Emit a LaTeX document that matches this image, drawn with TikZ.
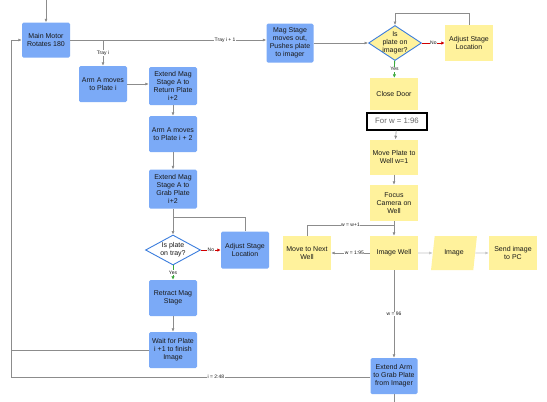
\documentclass[tikz,border=0pt]{standalone}
\usepackage{fontspec}
\setmainfont{Liberation Sans}
\usepackage{xcolor}
\usetikzlibrary{shapes.geometric,arrows.meta}
\definecolor{boxblue}{HTML}{7BAAF7}
\definecolor{boxyellow}{HTML}{FFF29C}
\definecolor{linegray}{HTML}{8C8C8C}
\definecolor{diamblue}{HTML}{3B7DDD}
\definecolor{nored}{HTML}{D00000}
\definecolor{yesgreen}{HTML}{3BA83B}
\begin{document}
\begin{tikzpicture}[x=1pt,y=1pt]
		\tikzstyle{every node}+=[inner sep=0.5pt,align=center,text=black!90,font=\fontsize{7}{8}\selectfont]
		\tikzstyle{bluebox}=[fill=boxblue,rounded corners=1.5pt,minimum width=48pt,minimum height=36pt]
		\tikzstyle{yellowbox}=[fill=boxyellow,minimum width=48pt,minimum height=35pt]
		\tikzstyle{decision}=[diamond,draw=diamblue,line width=0.9pt,inner sep=-5pt]
		\tikzstyle{flow}=[draw=linegray,line width=0.6pt,-{Latex[length=3.5pt,width=3pt]}]
		\tikzstyle{plainflow}=[draw=linegray,line width=0.6pt]
		\tikzstyle{noflow}=[draw=nored,line width=0.8pt,-{Latex[length=3.5pt,width=3.5pt]}]
		\tikzstyle{yesflow}=[draw=yesgreen,line width=0.8pt,-{Latex[length=3.5pt,width=3.5pt]}]
		\tikzstyle{lbl}=[fill=white,inner sep=0.6pt,font=\fontsize{5}{5.5}\selectfont]
		\fill [white] (0,0) rectangle (547,-402);
		\useasboundingbox (0,0) rectangle (547,-402);
		\node [bluebox,minimum height=35pt] (main) at (46,-40) {Main Motor\\Rotates 180};
		\node [bluebox] (armA) at (103,-84) {Arm A moves\\to Plate i};
		\node [bluebox,minimum height=38pt] (extReturn) at (173,-86) {Extend Mag\\Stage A to\\Return Plate\\i+2};
		\node [bluebox] (armAtwo) at (173,-134) {Arm A moves\\to Plate i + 2};
		\node [bluebox,minimum height=39pt] (extGrab) at (173,-189) {Extend Mag\\Stage A to\\Grab Plate\\i+2};
		\node [decision,fill=white,minimum width=55pt,minimum height=30pt] (trayq) at (173,-250) {Is plate\\on tray?};
		\node [bluebox,minimum height=37pt] (adjB) at (245,-250) {Adjust Stage\\Location};
		\node [bluebox] (retract) at (173,-298) {Retract Mag\\Stage};
		\node [bluebox] (wait) at (173,-350) {Wait for Plate\\i +1 to finish\\Image};
		\node [bluebox,minimum width=47pt,minimum height=39pt] (mag) at (290,-43) {Mag Stage\\moves out,\\Pushes plate\\to imager};
		\node [decision,fill=boxyellow,minimum width=53pt,minimum height=35pt] (imgq) at (395,-43) {Is\\plate on\\imager?};
		\node [yellowbox,minimum height=36pt] (adjY) at (469,-43) {Adjust Stage\\Location};
		\node [yellowbox,minimum height=32pt] (close) at (394,-94) {Close Door};
		\node [draw=black,line width=2pt,fill=white,minimum width=60pt,minimum height=17pt,text=black!60,font=\fontsize{7.8}{9}\selectfont] (forw) at (397,-121) {For w = 1:96};
		\node [yellowbox] (move) at (394,-157) {Move Plate to\\Well w=1};
		\node [yellowbox,minimum height=36pt] (focus) at (394,-203) {Focus\\Camera on\\Well};
		\node [yellowbox,minimum height=34pt] (imgwell) at (394,-253) {Image Well};
		\node [yellowbox,minimum height=34pt] (next) at (307,-253) {Move to Next\\Well};
		\node [trapezium,trapezium stretches=true,trapezium left angle=75,trapezium right angle=105,fill=boxyellow,minimum width=46pt,minimum height=34pt] (image) at (454,-253) {Image};
		\node [yellowbox,minimum height=34pt] (send) at (513,-253) {Send image\\to PC};
		\node [bluebox,minimum width=47pt] (extArm) at (394,-376) {Extend Arm\\to Grab Plate\\from Imager};
		\coordinate (topin) at (46,0);
		\coordinate (leftT) at (11,-40);
		\coordinate (leftW) at (11,-350);
		\coordinate (leftB) at (11,-377);
		\coordinate (joinB) at (173,-217);
		\coordinate (joinY) at (395,-13);
		\coordinate (joinW) at (394,-225);
		\coordinate (botout) at (394,-402);
		\draw [flow] (topin) -- (main);
		\draw [flow] (main.east) -- node [lbl,pos=0.79] {Tray i + 1} (main.east -| mag.west);
		\draw [flow] (armA |- main.east) -- node [lbl] {Tray i} (armA);
		\draw [flow] (armA.east) -- (armA.east -| extReturn.west);
		\draw [flow] (extReturn) -- (armAtwo);
		\draw [flow] (armAtwo) -- (extGrab);
		\draw [flow] (extGrab) -- (trayq);
		\draw [noflow] (trayq) -- node [lbl] {No} (adjB);
		\draw [plainflow] (adjB.north) |- (joinB);
		\draw [yesflow] (trayq) -- node [lbl] {Yes} (retract);
		\draw [flow] (retract) -- (wait);
		\draw [plainflow] (wait.west) -- (leftW);
		\draw [flow] (extArm.west |- leftB) -- node [lbl,pos=0.43] {i = 2:48} (leftB) -- (leftT) -- (main.west);
		\draw [plainflow] (extArm) -- (botout);
		\draw [flow] (mag) -- (imgq);
		\draw [noflow] (imgq) -- node [lbl] {No} (adjY);
		\draw [flow] (adjY.north) |- (joinY) -- (imgq.north);
		\draw [yesflow] (imgq) -- node [lbl] {Yes} (close);
		\draw [flow] (forw) -- (move);
		\draw [flow] (move) -- (focus);
		\draw [flow] (focus) -- (imgwell);
		\draw [plainflow] (next.north) |- node [lbl,pos=0.75] {w = w+1} (joinW);
		\draw [flow] (imgwell) -- node [lbl,pos=0.4] {w = 1:95} (next);
		\draw [flow,draw=linegray!50] (imgwell) -- (image);
		\draw [flow,draw=linegray!50] (image) -- (send);
		\draw [flow] (imgwell) -- node [lbl] {w = 96} (extArm);
	\end{tikzpicture}
\end{document}
